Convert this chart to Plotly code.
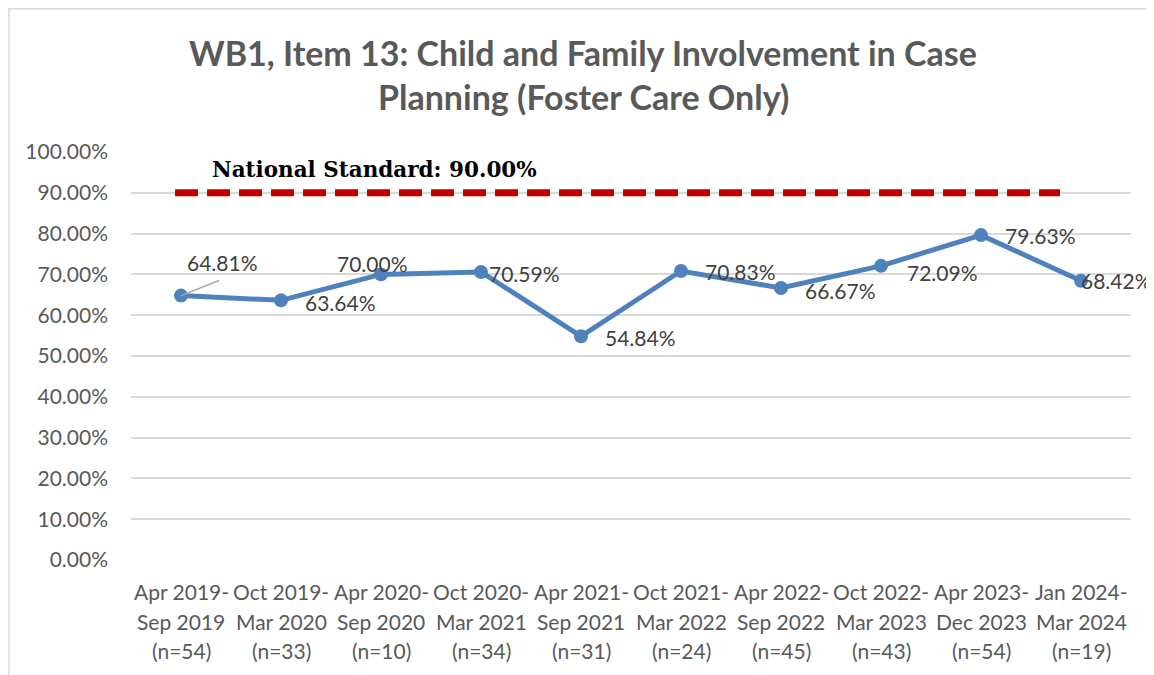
import plotly.graph_objects as go

# data
period_start = ["Apr 2019-", "Oct 2019-", "Apr 2020-", "Oct 2020-", "Apr 2021-",
                "Oct 2021-", "Apr 2022-", "Oct 2022-", "Apr 2023-", "Jan 2024-"]
period_end = ["Sep 2019", "Mar 2020", "Sep 2020", "Mar 2021", "Sep 2021",
              "Mar 2022", "Sep 2022", "Mar 2023", "Dec 2023", "Mar 2024"]
sample_n = [54, 33, 10, 34, 31, 24, 45, 43, 54, 19]
performance = [0.6481, 0.6364, 0.7000, 0.7059, 0.5484, 0.7083, 0.6667, 0.7209, 0.7963, 0.6842]
national_standard = 0.90

# label offsets (px), mimicking the Excel data label placement
label_dx = [4, 22, -46, 6, 22, 22, 22, 24, 22, -2]
label_dy = [-33, 2, -11, 2, 1, 0, 3, 7, 0, 0]

x_idx = list(range(len(performance)))
GREY = "#595959"
FONT = "Lato"

fig = go.Figure()

fig.add_trace(go.Scatter(
    x=x_idx, y=performance, mode="lines+markers",
    line=dict(color="#4F81BD", width=5),
    marker=dict(color="#4F81BD", size=14),
    showlegend=False, hoverinfo="y",
))

annotations = []
for i, v in enumerate(performance):
    annotations.append(dict(
        x=i, y=v, xref="x", yref="y", text=f"{v * 100:.2f}%", showarrow=False,
        xanchor="left", yanchor="middle", xshift=label_dx[i], yshift=-label_dy[i],
        font=dict(family=FONT, size=21, color="#404040"),
    ))

# category labels, three lines each (Excel spaces them wider than plotly ticks)
for i in x_idx:
    lines = [period_start[i], period_end[i], f"(n={sample_n[i]})"]
    for line_text, ypos in zip(lines, [-0.076, -0.150, -0.223]):
        annotations.append(dict(
            x=i, y=ypos, xref="x", yref="paper", text=line_text, showarrow=False,
            xanchor="center", yanchor="middle",
            font=dict(family=FONT, size=21, color=GREY),
        ))

# title, two lines
for line_text, ypos in zip(["WB1, Item 13: Child and Family Involvement in Case",
                            "Planning (Foster Care Only)"], [1.245, 1.135]):
    annotations.append(dict(
        x=0.452, y=ypos, xref="paper", yref="paper", text=f"<b>{line_text}</b>",
        showarrow=False, xanchor="center", yanchor="middle",
        font=dict(family=FONT, size=34, color=GREY),
    ))

# national standard label
annotations.append(dict(
    x=0.079, y=0.956, xref="paper", yref="y", text="<b>National Standard: 90.00%</b>",
    showarrow=False, xanchor="left", yanchor="middle",
    font=dict(family="DejaVu Serif", size=21.5, color="black"),
))

shapes = [
    # dashed national standard line
    dict(type="line", xref="paper", yref="y", x0=0.044, x1=0.929,
         y0=national_standard, y1=national_standard,
         line=dict(color="#C00000", width=7, dash="23px,9px")),
    # leader line for first label
    dict(type="line", xref="x", yref="y", x0=0.0, x1=0.38, y0=performance[0], y1=0.685,
         line=dict(color="#A6A6A6", width=1.5)),
    # chart border
    dict(type="rect", xref="paper", yref="paper", x0=-0.122, x1=1.2, y0=-0.4, y1=1.351,
         line=dict(color="#D9D9D9", width=1.5), fillcolor="rgba(0,0,0,0)", layer="below"),
]

fig.update_layout(
    width=1146, height=667,
    margin=dict(l=123, r=23, t=144, b=115),
    paper_bgcolor="white", plot_bgcolor="white",
    annotations=annotations,
    shapes=shapes,
)

fig.update_xaxes(
    range=[-0.5, 9.5], tickvals=x_idx, showticklabels=False,
    showgrid=False, zeroline=False, showline=False,
)
fig.update_yaxes(
    range=[0, 1.0], dtick=0.1, tickformat=".2%",
    showgrid=True, gridcolor="#D9D9D9", gridwidth=1.5,
    zeroline=False, showline=False, ticklabelstandoff=22,
    tickfont=dict(family=FONT, size=21, color=GREY),
)

fig.write_html("out.html")
